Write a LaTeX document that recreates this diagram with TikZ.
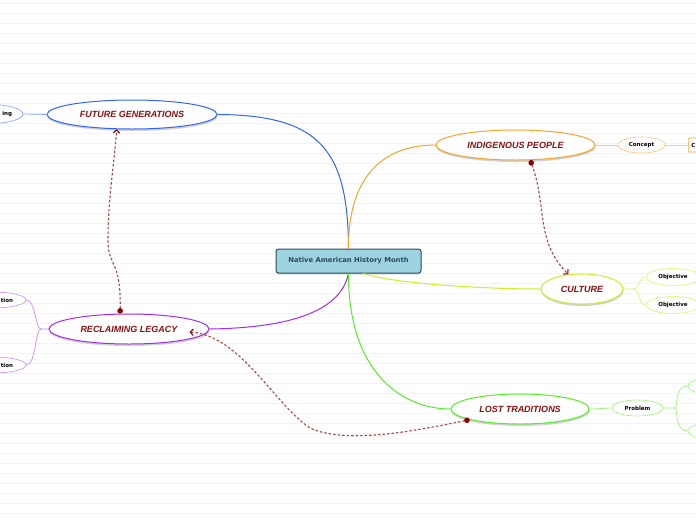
\documentclass[tikz,border=0pt]{standalone}
\usepackage{fontspec}
\newfontfamily\topicfont{Liberation Sans}
\newfontfamily\leaffont{DejaVu Sans}
\usetikzlibrary{shapes.geometric,shadows,arrows.meta}

\definecolor{rootfill}{HTML}{9DD2DF}
\definecolor{rootline}{HTML}{2E4B5B}
\definecolor{topictext}{HTML}{8B1111}
\definecolor{relline}{HTML}{A84845}
\definecolor{reldot}{HTML}{880000}
\definecolor{cblue}{HTML}{2F66F8}
\definecolor{corange}{HTML}{F8A428}
\definecolor{cyellow}{HTML}{CCEE22}
\definecolor{cpurple}{HTML}{A22BF0}
\definecolor{cgreen}{HTML}{55EE22}
\definecolor{ruleline}{HTML}{F3F3F3}

\tikzset{
  root/.style={rectangle, rounded corners=2.5pt, draw=rootline, line width=1pt, fill=rootfill,
    minimum width=145pt, minimum height=24pt, text=rootline,
    font=\leaffont\bfseries\fontsize{6.8}{7.5}\selectfont,
    drop shadow={shadow xshift=0pt, shadow yshift=-1.5pt, opacity=.3}},
  topic/.style={ellipse, draw, line width=1pt, fill=white, inner sep=0pt, text=topictext,
    font=\topicfont\bfseries\itshape\fontsize{9}{10}\selectfont,
    drop shadow={shadow xshift=.5pt, shadow yshift=-2pt, opacity=.35}},
  leaf/.style={ellipse, draw, line width=.6pt, fill=white, inner sep=0pt, minimum height=16pt,
    font=\leaffont\bfseries\fontsize{5.5}{6}\selectfont},
  rel/.style={draw=relline, line width=1.1pt, dash pattern=on 2.5pt off 2pt,
    {Circle[length=5.5pt,width=5.5pt,color=reldot,fill=reldot]}-{Straight Barb[length=3pt,width=6.5pt,color=reldot]}},
}

\begin{document}
\begin{tikzpicture}[x=1pt,y=-1pt]

        \clip (0,0) rectangle (696,520);
        \fill[white] (0,0) rectangle (696,520);
        \foreach \y in {3.5,13.5,...,513.5}
          \draw[ruleline, line width=.6pt] (0,\y) -- (696,\y);

        \node[root] (1) at (348.5,261) {Native American History Month};

        \begin{scope}[every node/.style={topic}]
          \node[draw=cblue,   minimum width=170pt, minimum height=29pt] (2) at (132,114.5) {FUTURE GENERATIONS};
          \node[draw=cpurple, minimum width=160pt, minimum height=30pt] (3) at (129,329)   {RECLAIMING LEGACY};
          \node[draw=corange, minimum width=159pt, minimum height=30pt] (4) at (515.5,145) {INDIGENOUS PEOPLE};
          \node[draw=cyellow, minimum width=82pt,  minimum height=30pt] (5) at (582,289)   {CULTURE};
          \node[draw=cgreen,  minimum width=138pt, minimum height=30pt] (6) at (520,409)   {LOST TRADITIONS};
        \end{scope}

        \begin{scope}[every node/.style={leaf}]
          \node[draw=cblue!60,   minimum width=66pt, minimum height=19pt] (7) at (-10,114) {\makebox[44pt][r]{ing}};
          \node[draw=cpurple!55, minimum width=66pt] (8)  at (-7,300)    {\makebox[40pt][r]{tion}};
          \node[draw=cpurple!55, minimum width=66pt] (9)  at (-7,365)    {\makebox[40pt][r]{tion}};
          \node[draw=corange!60, minimum width=47pt] (10) at (641.5,145) {Concept};
          \node[draw=cyellow!65, minimum width=54pt, minimum height=17pt] (12) at (673,277) {Objective};
          \node[draw=cyellow!65, minimum width=54pt, minimum height=17pt] (13) at (673,305) {Objective};
          \node[draw=cgreen!60,  minimum width=51pt] (14) at (637.5,408) {Problem};
          \node[draw=cgreen!60,  minimum width=50pt, minimum height=17pt] (15) at (713,386) {};
          \node[draw=cgreen!60,  minimum width=50pt, minimum height=17pt] (16) at (713,431) {};
        \end{scope}
        \node[leaf, rectangle, rounded corners=1pt, draw=corange, anchor=west,
              minimum height=14pt, inner xsep=3pt] (11) at (688,145) {\makebox[30pt][l]{C}};

        \coordinate (b1) at (41,329);
        \coordinate (b2) at (633,289);
        \coordinate (b3) at (675,408);

        % main branches
        \draw[cblue,   line width=1pt] (1.north) .. controls (348,150) and (320,115) .. (2.east);
        \draw[corange, line width=1pt] (1.north) .. controls (348,180) and (380,145) .. (4.west);
        \draw[cyellow, line width=1pt] (1.-40)   .. controls (390,283) and (480,289) .. (5.west);
        \draw[cpurple, line width=1pt] (1.south) .. controls (340,315) and (280,328) .. (3.east);
        \draw[cgreen,  line width=1pt] (1.south) .. controls (348,370) and (400,409) .. (6.west);

        % sub branches
        \draw[cblue!60, line width=.7pt]   (2.west) -- (7.east);
        \draw[cpurple!55, line width=.7pt] (3.west) -- (b1) .. controls (35,329) and (36,300) .. (8.east);
        \draw[cpurple!55, line width=.7pt] (b1) .. controls (35,329) and (36,365) .. (9.east);
        \draw[corange!60, line width=.7pt] (4.east) -- (10.west);
        \draw[corange!60, line width=.7pt] (10.east) -- (11.west);
        \draw[cyellow!65, line width=.7pt] (5.east) -- (b2) .. controls (640,289) and (638,277) .. (12.west);
        \draw[cyellow!65, line width=.7pt] (b2) .. controls (640,289) and (638,305) .. (13.west);
        \draw[cgreen!60, line width=.7pt]  (6.east) -- (14.west);
        \draw[cgreen!60, line width=.7pt]  (14.east) -- (b3) .. controls (678,408) and (674,386) .. (15.west);
        \draw[cgreen!60, line width=.7pt]  (b3) .. controls (678,408) and (674,431) .. (16.west);

        % relations
        \draw[rel] (4.-46) .. controls (547,205) and (535,241) .. (5.133);
        \draw[rel] (3.120) .. controls (121,258) and (108,268) .. (108,240)
                           .. controls (108,200) and (114,165) .. (2.-136);
        \draw[rel] (6.192) .. controls (410,432) and (345,444) .. (310,428)
                           .. controls (275,405) and (240,335) .. ([shift={(-20,3)}]3.east);

      \end{tikzpicture}
\end{document}
